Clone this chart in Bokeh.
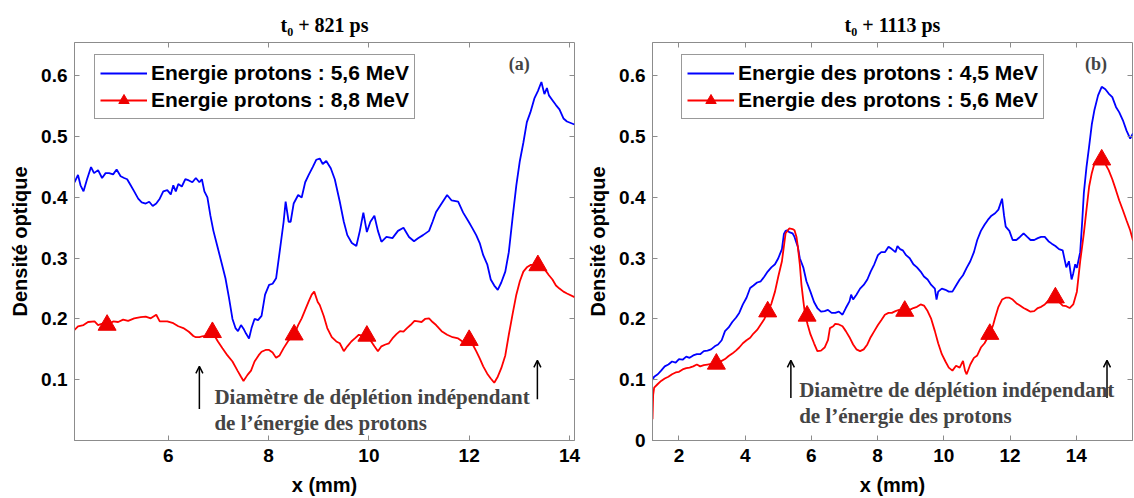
from bokeh.plotting import figure
from bokeh.models import (Range1d, FixedTicker, LinearAxis, Legend, LegendItem,
                          Label, Arrow, OpenHead, Title)
from bokeh.layouts import row
from bokeh.embed import file_html
from bokeh.resources import INLINE

# ---------------- data : panel (a) t0 + 821 ps ----------------
a_x_blue = [4.13, 4.20, 4.25, 4.31, 4.38, 4.46, 4.52, 4.60, 4.68, 4.75, 4.82, 4.90, 4.97, 5.05,
            5.12, 5.18, 5.25, 5.32, 5.40, 5.47, 5.55, 5.62, 5.69, 5.76, 5.83, 5.90, 5.98, 6.05,
            6.10, 6.15, 6.20, 6.27, 6.34, 6.41, 6.48, 6.55, 6.62, 6.67, 6.72, 6.78, 6.84, 6.90,
            6.99, 7.07, 7.14, 7.21, 7.28, 7.34, 7.39, 7.45, 7.50, 7.55, 7.61, 7.66, 7.72, 7.79,
            7.86, 7.93, 8.01, 8.08, 8.15, 8.22, 8.30, 8.34, 8.40, 8.44, 8.50, 8.59, 8.66, 8.73,
            8.80, 8.88, 8.95, 9.02, 9.08, 9.15, 9.24, 9.32, 9.42, 9.50, 9.57, 9.66, 9.75, 9.82,
            9.89, 9.96, 10.03, 10.11, 10.18, 10.25, 10.35, 10.47, 10.58, 10.69, 10.80, 10.90,
            10.98, 11.08, 11.20, 11.27, 11.34, 11.45, 11.56, 11.65, 11.78, 11.88, 11.99, 12.06,
            12.14, 12.21, 12.28, 12.36, 12.43, 12.50, 12.57, 12.64, 12.72, 12.79, 12.87, 12.94,
            13.01, 13.08, 13.15, 13.22, 13.30, 13.37, 13.44, 13.50, 13.55, 13.59, 13.66, 13.73,
            13.80, 13.88, 13.95, 14.10]
a_y_blue = [0.425, 0.437, 0.420, 0.410, 0.430, 0.450, 0.440, 0.445, 0.432, 0.440, 0.440, 0.438,
            0.446, 0.435, 0.432, 0.430, 0.420, 0.410, 0.398, 0.392, 0.390, 0.393, 0.386, 0.390,
            0.398, 0.410, 0.412, 0.405, 0.420, 0.410, 0.422, 0.418, 0.430, 0.428, 0.425, 0.432,
            0.425, 0.430, 0.410, 0.400, 0.370, 0.345, 0.316, 0.290, 0.267, 0.235, 0.200, 0.185,
            0.180, 0.190, 0.184, 0.176, 0.168, 0.185, 0.200, 0.198, 0.205, 0.240, 0.256, 0.258,
            0.267, 0.310, 0.360, 0.393, 0.360, 0.360, 0.390, 0.404, 0.400, 0.425, 0.437, 0.450,
            0.462, 0.464, 0.455, 0.460, 0.448, 0.430, 0.393, 0.360, 0.338, 0.325, 0.320, 0.345,
            0.375, 0.343, 0.360, 0.370, 0.345, 0.327, 0.335, 0.333, 0.345, 0.350, 0.335, 0.328,
            0.333, 0.338, 0.345, 0.360, 0.376, 0.390, 0.404, 0.395, 0.393, 0.375, 0.360, 0.350,
            0.338, 0.325, 0.305, 0.290, 0.265, 0.255, 0.248, 0.260, 0.278, 0.310, 0.370, 0.420,
            0.460, 0.490, 0.524, 0.540, 0.563, 0.575, 0.590, 0.570, 0.580, 0.568, 0.560, 0.552,
            0.545, 0.530, 0.525, 0.520]
a_x_red = [4.13, 4.20, 4.31, 4.40, 4.53, 4.60, 4.70, 4.78, 4.90, 5.00, 5.10, 5.20, 5.32, 5.45,
           5.55, 5.65, 5.76, 5.83, 5.98, 6.10, 6.20, 6.30, 6.41, 6.50, 6.55, 6.62, 6.70, 6.78,
           6.88, 6.99, 7.08, 7.18, 7.28, 7.38, 7.45, 7.50, 7.58, 7.65, 7.72, 7.80, 7.86, 7.94,
           8.01, 8.08, 8.15, 8.22, 8.30, 8.40, 8.51, 8.59, 8.66, 8.73, 8.80, 8.86, 8.91, 8.98,
           9.02, 9.10, 9.17, 9.26, 9.35, 9.42, 9.50, 9.57, 9.65, 9.72, 9.80, 9.90, 9.96, 10.03,
           10.11, 10.18, 10.25, 10.33, 10.40, 10.47, 10.55, 10.62, 10.69, 10.76, 10.83, 10.91,
           10.98, 11.05, 11.12, 11.20, 11.27, 11.34, 11.45, 11.56, 11.67, 11.78, 11.88, 12.00,
           12.07, 12.14, 12.21, 12.28, 12.36, 12.43, 12.50, 12.57, 12.64, 12.72, 12.79, 12.87,
           12.94, 13.01, 13.08, 13.15, 13.23, 13.30, 13.37, 13.44, 13.52, 13.59, 13.66, 13.73,
           13.80, 13.88, 13.95, 14.10]
a_y_red = [0.182, 0.188, 0.190, 0.195, 0.196, 0.190, 0.193, 0.190, 0.196, 0.195, 0.199, 0.197,
           0.201, 0.203, 0.204, 0.201, 0.207, 0.196, 0.196, 0.193, 0.188, 0.185, 0.179, 0.172,
           0.170, 0.170, 0.172, 0.170, 0.178, 0.163, 0.152, 0.140, 0.130, 0.115, 0.105, 0.098,
           0.108, 0.115, 0.130, 0.140, 0.146, 0.149, 0.149, 0.145, 0.136, 0.140, 0.152, 0.165,
           0.174, 0.190, 0.201, 0.215, 0.229, 0.240, 0.245, 0.228, 0.223, 0.205, 0.185, 0.170,
           0.163, 0.160, 0.147, 0.155, 0.163, 0.168, 0.174, 0.172, 0.172, 0.165, 0.155, 0.147,
           0.155, 0.158, 0.160, 0.168, 0.175, 0.180, 0.179, 0.185, 0.190, 0.197, 0.196, 0.195,
           0.200, 0.201, 0.195, 0.190, 0.180, 0.174, 0.170, 0.168, 0.162, 0.165, 0.158, 0.147,
           0.135, 0.122, 0.110, 0.102, 0.095, 0.105, 0.119, 0.140, 0.174, 0.210, 0.240, 0.262,
           0.278, 0.285, 0.289, 0.289, 0.288, 0.284, 0.280, 0.272, 0.265, 0.255, 0.250, 0.245,
           0.242, 0.236]
a_mark_x = [4.78, 6.88, 8.51, 9.96, 12.00, 13.37]
a_mark_y = [0.190, 0.178, 0.174, 0.172, 0.165, 0.288]

# ---------------- data : panel (b) t0 + 1113 ps ----------------
b_x_blue = [1.20, 1.25, 1.36, 1.46, 1.57, 1.68, 1.79, 1.90, 2.00, 2.11, 2.22, 2.32, 2.43, 2.54,
            2.64, 2.75, 2.86, 2.97, 3.08, 3.18, 3.29, 3.39, 3.50, 3.61, 3.72, 3.82, 3.93, 4.04,
            4.15, 4.25, 4.36, 4.47, 4.58, 4.68, 4.79, 4.90, 5.00, 5.11, 5.17, 5.22, 5.27, 5.33,
            5.43, 5.49, 5.55, 5.59, 5.65, 5.76, 5.85, 5.97, 6.08, 6.18, 6.29, 6.40, 6.50, 6.61,
            6.72, 6.83, 6.94, 7.04, 7.15, 7.20, 7.26, 7.36, 7.47, 7.58, 7.69, 7.79, 7.90, 8.01,
            8.11, 8.22, 8.33, 8.43, 8.54, 8.60, 8.68, 8.76, 8.86, 8.97, 9.08, 9.19, 9.30, 9.40,
            9.51, 9.62, 9.73, 9.78, 9.83, 9.94, 10.05, 10.15, 10.26, 10.37, 10.48, 10.58, 10.69,
            10.80, 10.91, 11.01, 11.12, 11.23, 11.33, 11.44, 11.55, 11.65, 11.76, 11.82, 11.87,
            11.98, 12.08, 12.19, 12.30, 12.41, 12.52, 12.62, 12.73, 12.84, 12.94, 13.05, 13.16,
            13.26, 13.37, 13.48, 13.59, 13.70, 13.78, 13.86, 13.91, 13.97, 14.02, 14.12, 14.18,
            14.23, 14.31, 14.39, 14.47, 14.55, 14.66, 14.77, 14.88, 14.98, 15.09, 15.20, 15.30,
            15.41, 15.52, 15.63, 15.71, 15.80]
b_y_blue = [0.100, 0.105, 0.109, 0.115, 0.122, 0.125, 0.130, 0.128, 0.134, 0.133, 0.138, 0.136,
            0.140, 0.142, 0.142, 0.147, 0.148, 0.150, 0.155, 0.158, 0.165, 0.180, 0.186, 0.195,
            0.202, 0.210, 0.224, 0.235, 0.251, 0.255, 0.260, 0.262, 0.270, 0.278, 0.285, 0.290,
            0.300, 0.315, 0.340, 0.345, 0.346, 0.343, 0.341, 0.335, 0.325, 0.319, 0.300, 0.284,
            0.262, 0.245, 0.228, 0.218, 0.212, 0.213, 0.215, 0.210, 0.210, 0.212, 0.207, 0.218,
            0.229, 0.240, 0.232, 0.240, 0.250, 0.256, 0.265, 0.278, 0.290, 0.305, 0.310, 0.310,
            0.319, 0.315, 0.310, 0.320, 0.315, 0.313, 0.305, 0.300, 0.290, 0.285, 0.278, 0.270,
            0.265, 0.256, 0.250, 0.232, 0.245, 0.250, 0.248, 0.245, 0.245, 0.255, 0.265, 0.272,
            0.284, 0.295, 0.310, 0.330, 0.345, 0.355, 0.363, 0.370, 0.374, 0.380, 0.398, 0.370,
            0.352, 0.345, 0.330, 0.330, 0.335, 0.341, 0.335, 0.330, 0.330, 0.333, 0.335, 0.335,
            0.328, 0.324, 0.320, 0.315, 0.313, 0.285, 0.295, 0.265, 0.275, 0.290, 0.284, 0.310,
            0.360, 0.407, 0.450, 0.484, 0.520, 0.544, 0.568, 0.582, 0.578, 0.571, 0.565, 0.549,
            0.540, 0.527, 0.510, 0.497, 0.505, 0.500]
b_x_red = [1.20, 1.22, 1.25, 1.36, 1.46, 1.57, 1.68, 1.79, 1.90, 2.00, 2.11, 2.22, 2.32, 2.43,
           2.54, 2.64, 2.75, 2.86, 2.97, 3.13, 3.29, 3.39, 3.50, 3.61, 3.72, 3.82, 3.93, 4.04,
           4.15, 4.25, 4.36, 4.47, 4.58, 4.68, 4.79, 4.90, 5.00, 5.11, 5.17, 5.22, 5.28, 5.33,
           5.43, 5.49, 5.55, 5.59, 5.65, 5.70, 5.76, 5.81, 5.89, 5.97, 6.08, 6.18, 6.29, 6.40,
           6.50, 6.56, 6.66, 6.72, 6.83, 6.94, 7.04, 7.15, 7.26, 7.36, 7.47, 7.58, 7.69, 7.79,
           7.90, 8.01, 8.11, 8.22, 8.33, 8.43, 8.54, 8.65, 8.76, 8.82, 8.97, 9.08, 9.19, 9.30,
           9.40, 9.51, 9.62, 9.73, 9.83, 9.94, 10.05, 10.15, 10.26, 10.37, 10.48, 10.58, 10.64,
           10.69, 10.80, 10.91, 11.01, 11.12, 11.23, 11.33, 11.39, 11.49, 11.55, 11.65, 11.76,
           11.87, 11.98, 12.08, 12.19, 12.30, 12.41, 12.52, 12.62, 12.73, 12.84, 12.94, 13.05,
           13.16, 13.26, 13.37, 13.48, 13.59, 13.70, 13.80, 13.91, 14.02, 14.07, 14.12, 14.18,
           14.23, 14.31, 14.39, 14.47, 14.55, 14.66, 14.77, 14.88, 14.98, 15.09, 15.20, 15.30,
           15.41, 15.52, 15.63, 15.71, 15.80]
b_y_red = [0.035, 0.075, 0.087, 0.093, 0.098, 0.102, 0.105, 0.109, 0.112, 0.113, 0.117, 0.119,
           0.120, 0.122, 0.125, 0.122, 0.124, 0.125, 0.126, 0.126, 0.131, 0.134, 0.139, 0.143,
           0.148, 0.153, 0.160, 0.165, 0.169, 0.176, 0.182, 0.191, 0.200, 0.212, 0.225, 0.245,
           0.270, 0.295, 0.320, 0.341, 0.345, 0.349, 0.348, 0.346, 0.335, 0.319, 0.290, 0.256,
           0.228, 0.207, 0.190, 0.175, 0.160, 0.147, 0.148, 0.153, 0.165, 0.185, 0.188, 0.192,
           0.191, 0.188, 0.180, 0.170, 0.158, 0.150, 0.147, 0.150, 0.158, 0.170, 0.180, 0.190,
           0.198, 0.207, 0.210, 0.210, 0.213, 0.215, 0.210, 0.213, 0.215, 0.218, 0.220, 0.224,
           0.222, 0.213, 0.200, 0.180, 0.160, 0.142, 0.130, 0.120, 0.115, 0.123, 0.120, 0.131,
           0.115, 0.109, 0.125, 0.136, 0.140, 0.153, 0.160, 0.170, 0.175, 0.190, 0.202, 0.220,
           0.232, 0.235, 0.235, 0.232, 0.226, 0.222, 0.218, 0.215, 0.212, 0.213, 0.218, 0.220,
           0.224, 0.230, 0.233, 0.235, 0.228, 0.222, 0.221, 0.218, 0.224, 0.245, 0.270, 0.295,
           0.320, 0.341, 0.380, 0.418, 0.440, 0.456, 0.460, 0.462, 0.455, 0.445, 0.430, 0.412,
           0.395, 0.379, 0.362, 0.346, 0.330, 0.325]
b_mark_x = [3.13, 4.68, 5.87, 8.82, 11.39, 13.37, 14.77]
b_mark_y = [0.126, 0.212, 0.205, 0.213, 0.175, 0.235, 0.462]

a_xticks = [6, 8, 10, 12, 14]
b_xticks = [2, 4, 6, 8, 10, 12, 14]
a_yticks = [0.1, 0.2, 0.3, 0.4, 0.5, 0.6]
b_yticks = [0, 0.1, 0.2, 0.3, 0.4, 0.5, 0.6]

a_title = "t\u2080 + 821 ps"
b_title = "t\u2080 + 1113 ps"
a_labels = ["Energie protons : 5,6 MeV", "Energie protons : 8,8 MeV"]
b_labels = ["Energie des protons : 4,5 MeV", "Energie des protons : 5,6 MeV"]
note1 = "Diamètre de déplétion indépendant"
note2 = "de l\u2019énergie des protons"

SANS = "Liberation Sans"
SERIF = "Liberation Serif"
GRAY = "#8c8c8c"


def panel(width, bleft, bright, xr, xticks, yticks, title, xb, yb, xr_, yr_, mx, my,
          labels, leg_x, tag, tag_x, arrows, note_x, note_y1, note_y2):
    p = figure(width=width, height=498, output_backend="svg", toolbar_location=None,
               x_range=Range1d(*xr), y_range=Range1d(0, 0.655),
               min_border_left=bleft, min_border_right=bright,
               min_border_top=42, min_border_bottom=58)
    p.title = Title(text=title, align="center", text_font=SERIF, text_font_style="bold",
                    text_font_size="20px", text_color="black", standoff=13)
    p.grid.visible = False
    p.outline_line_color = GRAY
    p.background_fill_color = "white"
    p.border_fill_color = "white"

    for ax in (p.xaxis[0], p.yaxis[0]):
        ax.axis_line_color = GRAY
        ax.major_tick_line_color = GRAY
        ax.major_tick_in = 5
        ax.major_tick_out = 0
        ax.minor_tick_line_color = None
        ax.major_label_text_font = SANS
        ax.major_label_text_font_style = "bold"
        ax.major_label_text_font_size = "19px"
        ax.major_label_text_color = "black"
        ax.axis_label_text_font = SANS
        ax.axis_label_text_font_style = "bold"
        ax.axis_label_text_font_size = "20px"
        ax.axis_label_text_color = "black"
    p.xaxis[0].ticker = FixedTicker(ticks=xticks)
    p.yaxis[0].ticker = FixedTicker(ticks=yticks)
    p.yaxis[0].major_label_overrides = {0: "0"}
    p.xaxis[0].axis_label = "x (mm)"
    p.yaxis[0].axis_label = "Densité optique"
    p.xaxis[0].major_label_standoff = 8
    p.xaxis[0].axis_label_standoff = 9
    p.yaxis[0].major_label_standoff = 7
    p.yaxis[0].axis_label_standoff = 7

    # mirrored ticks (box style)
    top = LinearAxis(ticker=FixedTicker(ticks=xticks), major_tick_in=5, major_tick_out=0,
                     axis_line_color=None, major_tick_line_color=GRAY,
                     minor_tick_line_color=None, major_label_text_font_size="0px",
                     major_label_standoff=0)
    right = LinearAxis(ticker=FixedTicker(ticks=yticks), major_tick_in=5, major_tick_out=0,
                       axis_line_color=None, major_tick_line_color=GRAY,
                       minor_tick_line_color=None, major_label_text_font_size="0px",
                       major_label_standoff=0)
    p.add_layout(top, "above")
    p.add_layout(right, "right")

    lb = p.line(xb, yb, line_color="#0000ff", line_width=1.8)
    lr = p.line(xr_, yr_, line_color="#ff0000", line_width=1.8)
    sm = p.scatter(mx, my, marker="triangle", size=18, fill_color="#ee0000",
                   line_color="#ee0000")

    leg = Legend(items=[LegendItem(label=labels[0], renderers=[lb]),
                        LegendItem(label=labels[1], renderers=[lr, sm])],
                 location=(leg_x, 321), orientation="vertical",
                 border_line_color="#333333", border_line_width=1,
                 background_fill_color="white", background_fill_alpha=1,
                 label_text_font=SANS, label_text_font_style="bold",
                 label_text_font_size="21px", label_text_color="black",
                 glyph_width=47, glyph_height=26, label_height=26, label_standoff=4,
                 spacing=1, padding=5, margin=0)
    p.add_layout(leg, "center")

    p.add_layout(Label(x=tag_x, y=0.62, text=tag, text_font=SERIF, text_font_style="bold",
                       text_font_size="18px", text_align="center", text_baseline="middle"))
    for ax_ in arrows:
        p.add_layout(Arrow(end=OpenHead(size=7, line_width=1.5, line_color="black"),
                           x_start=ax_[0], y_start=ax_[1], x_end=ax_[0], y_end=ax_[2],
                           line_width=1.5, line_color="black"))
    p.add_layout(Label(x=note_x, y=note_y1, text=note1, text_font=SERIF, text_font_style="bold",
                       text_font_size="21px", text_baseline="middle"))
    p.add_layout(Label(x=note_x, y=note_y2, text=note2, text_font=SERIF, text_font_style="bold",
                       text_font_size="21px", text_baseline="middle"))
    return p


pa = panel(584, 74, 10, (4.13, 14.1), a_xticks, a_yticks, a_title,
           a_x_blue, a_y_blue, a_x_red, a_y_red, a_mark_x, a_mark_y,
           a_labels, 20, "(a)", 13.0,
           [(6.62, 0.052, 0.122), (13.36, 0.068, 0.132)], 6.92, 0.071, 0.028)
pb = panel(550, 63, 2, (1.2, 15.7), b_xticks, b_yticks, b_title,
           b_x_blue, b_y_blue, b_x_red, b_y_red, b_mark_x, b_mark_y,
           b_labels, 29, "(b)", 14.6,
           [(5.38, 0.07, 0.132), (14.93, 0.07, 0.132)], 5.63, 0.083, 0.041)

layout = row(pa, pb, spacing=0)
open("out.html", "w").write(file_html(layout, INLINE))
